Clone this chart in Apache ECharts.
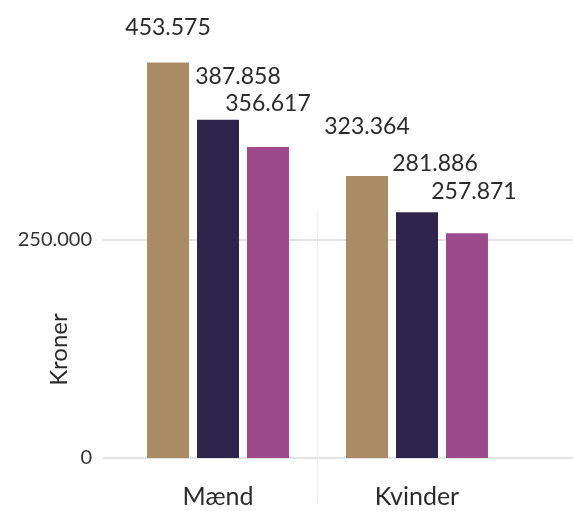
<!DOCTYPE html>
<html>
<head>
<meta charset="utf-8">
<script src="https://cdn.jsdelivr.net/npm/echarts@6/dist/echarts.min.js"></script>
<style>
  html, body { margin: 0; padding: 0; background: #fff; }
  #chart { width: 573px; height: 511px; }
</style>
</head>
<body>
<div id="chart"></div>
<script>
// categories and values (kroner)
const categories = ['Mænd', 'Kvinder'];
const seriesColors = ['#a98c65', '#2e254d', '#9c4a8b'];
const serie1 = [453575, 323364];
const serie2 = [387858, 281886];
const serie3 = [356617, 257871];
const yTicks = [0, 250000];

// label nudges [dx, dy] per series / category (layout only)
const labelNudge = [
  [[0, -23], [0, -38]],
  [[20, -32], [18, -37]],
  [[0, -32], [7, -30]],
];

const fmt = v => String(Math.round(v)).replace(/\B(?=(\d{3})+(?!\d))/g, '.');
const font = 'Lato, "Open Sans", sans-serif';

function makeSeries(values, idx) {
  return {
    type: 'bar',
    clip: false,
    z: 3,
    barWidth: 42,
    barGap: '19%',
    itemStyle: { color: seriesColors[idx] },
    label: {
      show: true,
      position: 'top',
      distance: 0,
      fontFamily: font,
      fontSize: 23,
      color: '#2b2b2b',
      formatter: p => fmt(p.value[1]),
    },
    data: values.map((v, i) => ({
      value: [i, v],
      label: { offset: labelNudge[idx][i] },
    })),
  };
}

const chart = echarts.init(document.getElementById('chart'));
const series = [serie1, serie2, serie3].map(makeSeries);

// grid lines drawn as mark lines on the middle series (no bar offset there)
series[1].markLine = {
  silent: true,
  z: 1,
  symbol: 'none',
  label: { show: false },
  animation: false,
  data: [
    { yAxis: 0, lineStyle: { color: '#e3e3e3', width: 2, type: 'solid' } },
    { yAxis: 250000, lineStyle: { color: '#e3e3e3', width: 2, type: 'solid' } },
    { xAxis: 0.5, lineStyle: { color: '#ececec', width: 1, type: 'solid' } },
  ],
};

chart.setOption({
  animation: false,
  grid: { left: 103, right: 0, top: 212, bottom: 8, outerBoundsMode: 'none' },
  xAxis: {
    type: 'value',
    min: -0.578,
    max: 1.784,
    offset: -45,
    axisLine: { show: false, onZero: false },
    axisTick: { show: false },
    splitLine: { show: false },
    axisLabel: {
      customValues: [0, 1],
      formatter: v => categories[Math.round(v)] || '',
      margin: 26,
      fontFamily: font,
      fontSize: 25,
      color: '#2b2b2b',
    },
  },
  yAxis: {
    type: 'value',
    min: -51606,
    max: 282110,
    name: 'Kroner',
    nameLocation: 'middle',
    nameGap: 32,
    nameMoveOverlap: false,
    nameTextStyle: {
      fontFamily: font,
      fontSize: 24,
      color: '#2b2b2b',
      padding: [0, 0, 0, 16],
    },
    axisLine: { show: false, onZero: false },
    axisTick: { show: false },
    splitLine: { show: false },
    axisLabel: {
      customValues: yTicks,
      formatter: fmt,
      margin: 11,
      fontFamily: font,
      fontSize: 20,
      color: '#333',
    },
  },
  series: series,
});
</script>
</body>
</html>
